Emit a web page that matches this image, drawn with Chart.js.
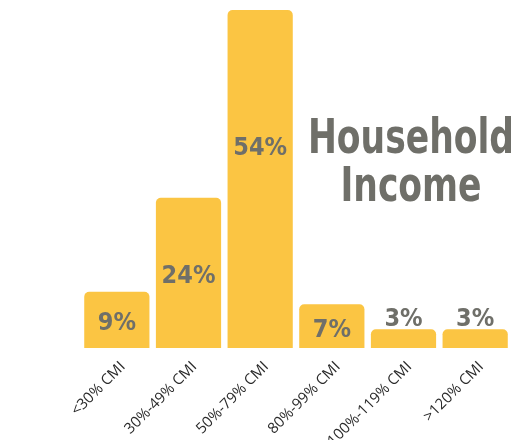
<!doctype html>
<html lang="en">
<head>
    <meta charset="utf-8">
    <title>Household Income</title>
    <script src="https://cdn.jsdelivr.net/npm/chart.js"></script>
    <style>
        html, body { margin: 0; padding: 0; background: #fff; overflow: hidden; }
        #wrap { position: relative; width: 511px; height: 440px; overflow: hidden; }
        #title {
            position: absolute; left: 261px; top: 112px; width: 300px;
            font-family: "DejaVu Sans Condensed", "DejaVu Sans", sans-serif;
            font-weight: bold; font-size: 48px; line-height: 48px;
            color: #6f6f69; text-align: center; white-space: nowrap;
            transform: scaleX(0.8); transform-origin: 150px 0;
        }
    </style>
</head>
<body>
    <div id="wrap">
        <canvas id="chart" width="511" height="440"></canvas>
        <div id="title">Household<br>Income</div>
    </div>
    <script>
        const categories = ['<30% CMI', '30%-49% CMI', '50%-79% CMI', '80%-99% CMI', '100%-119% CMI', '>120% CMI'];
        const shares = [9, 24, 54, 7, 3, 3];
        const valueLabels = ['9%', '24%', '54%', '7%', '3%', '3%'];

        // percent labels inside (or above, for the small bars) each bar
        const valueLabelPlugin = {
            id: 'valueLabels',
            afterDatasetsDraw(chart) {
                const ctx = chart.ctx;
                const meta = chart.getDatasetMeta(0);
                ctx.save();
                ctx.font = 'bold 25px "DejaVu Sans Condensed", "DejaVu Sans", sans-serif';
                ctx.fillStyle = '#6f6f69';
                ctx.textAlign = 'center';
                ctx.textBaseline = 'middle';
                meta.data.forEach((bar, i) => {
                    const h = bar.base - bar.y;
                    let y;
                    if (h < 30) y = bar.y - 10;
                    else if (h > 250) y = bar.y + h * 0.41;
                    else y = bar.y + h / 2 + 4;
                    ctx.fillText(valueLabels[i], bar.x, y);
                });
                ctx.restore();
            }
        };

        new Chart(document.getElementById('chart'), {
            type: 'bar',
            data: {
                labels: categories,
                datasets: [{
                    data: shares,
                    backgroundColor: '#fbc543',
                    borderRadius: { topLeft: 5, topRight: 5 },
                    borderSkipped: 'bottom',
                    barPercentage: 0.91,
                    categoryPercentage: 1
                }]
            },
            options: {
                responsive: false,
                animation: false,
                layout: { padding: { top: 10, left: 81, right: -3, bottom: 0 } },
                plugins: { legend: { display: false }, tooltip: { enabled: false } },
                scales: {
                    y: { display: false, min: 0, max: 54 },
                    x: {
                        grid: { display: false },
                        border: { display: false },
                        afterFit(scale) {
                            scale.height = 92;
                            scale.paddingLeft = 0;
                            scale.paddingRight = 0;
                        },
                        ticks: {
                            minRotation: 45, maxRotation: 45,
                            padding: 2,
                            labelOffset: 6,
                            color: '#2b2b2b',
                            font: { family: '"Open Sans", sans-serif', size: 15 }
                        }
                    }
                }
            },
            plugins: [valueLabelPlugin]
        });
    </script>
</body>
</html>
